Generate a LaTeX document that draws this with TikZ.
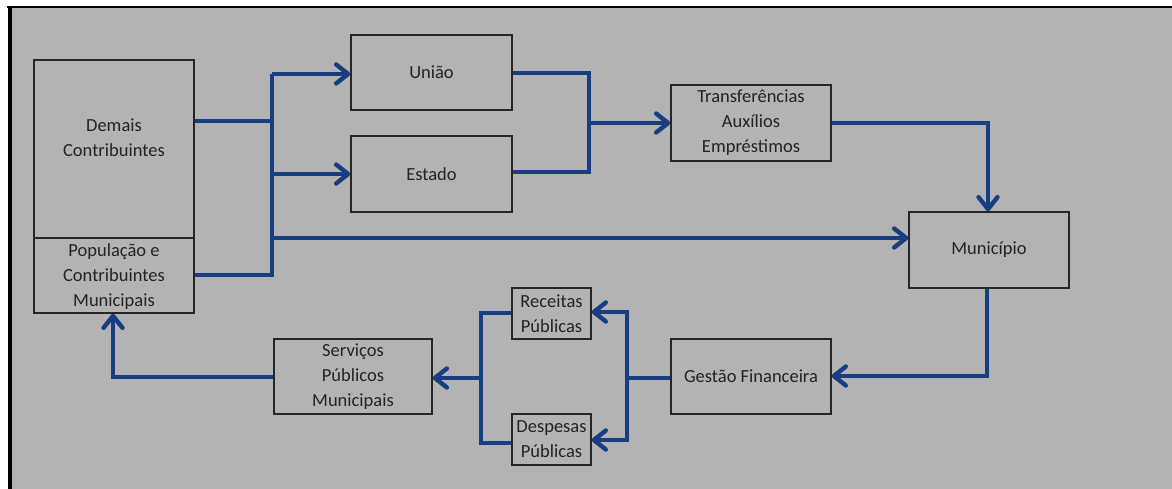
\documentclass[tikz,border=0pt]{standalone}
\usepackage{fontspec}
\setmainfont{Carlito}
\usetikzlibrary{arrows.meta}
\definecolor{bg}{RGB}{179,179,179}
\definecolor{flow}{RGB}{22,62,128}
\definecolor{txt}{RGB}{35,35,35}
\begin{document}
\begin{tikzpicture}[x=1bp,y=-1bp,
  box/.style={draw=black!85,line width=1.3bp,inner sep=0pt,text=txt,align=center,
    font=\fontsize{18.5bp}{25bp}\selectfont},
  lbl/.style={text=txt,align=center,font=\fontsize{18.5bp}{25bp}\selectfont},
  flowline/.style={draw=flow,line width=4.4bp,line join=miter},
  arr/.style={flowline,-{Straight Barb[length=12bp,width=19bp,line width=4.4bp,round]}}]
\useasboundingbox (0,0) rectangle (1172,489);
\fill[white] (0,0) rectangle (1172,489);
\fill[bg] (10,7) rectangle (1172,489);
\draw[black,line width=2.2bp] (7,7) -- (1172,7);
\draw[black,line width=3.5bp] (10,7) -- (10,489);
% nodes
\node[box,minimum width=160bp,minimum height=253bp] (dem) at (114,186.5) {};
\node[lbl] (demt) at (114,137.5) {Demais\\Contribuintes};
\draw[draw=black!85,line width=1.3bp] (dem.west |- 0,238) coordinate (dl) -- (dem.east |- 0,238) coordinate (dr);
\node[lbl] (pop) at (114,277) {População e\\Contribuintes\\Municipais};
\node[box,minimum width=161bp,minimum height=75bp] (uniao) at (431.5,72.5) {União};
\node[box,minimum width=161bp,minimum height=76bp] (estado) at (431.5,174) {Estado};
\node[box,minimum width=160bp,minimum height=76bp] (transf) at (751,123) {Transferências\\Auxílios\\Empréstimos};
\node[box,minimum width=160bp,minimum height=76bp] (mun) at (989,250) {Município};
\node[box,minimum width=160bp,minimum height=75bp] (gest) at (751,376.5) {Gestão Financeira};
\node[box,minimum width=79bp,minimum height=51bp] (rec) at (551.5,313.5) {Receitas\\Públicas};
\node[box,minimum width=79bp,minimum height=51bp] (desp) at (551.5,439.5) {Despesas\\Públicas};
\node[box,minimum width=158bp,minimum height=75bp] (serv) at (353,376.5) {Serviços\\Públicos\\Municipais};
% bus from contributors
\coordinate (b1) at (272,121);
\coordinate (b2) at (272,275);
\coordinate (btop) at (272,74);
\draw[flowline] (dem.east |- b1) -- (b1);
\draw[flowline] (btop) -- (b2) -- (dem.east |- b2);
\draw[arr] (btop) -- (uniao.west |- btop);
\draw[arr] (272,174) coordinate (be) -- (estado.west |- be);
\draw[arr] (272,238) coordinate (bm) -- (mun.west |- bm);
% union/estado to transfers
\coordinate (t1) at (589,73);
\coordinate (t2) at (589,172);
\draw[flowline] (uniao.east |- t1) -- (t1) -- (t2) -- (estado.east |- t2);
\draw[arr] (589,123) coordinate (tm) -- (transf.west |- tm);
% transfers to municipio
\coordinate (c1) at (988,123);
\draw[arr] (transf.east |- c1) -- (c1) -- (c1 |- mun.north);
% municipio to gestao
\coordinate (c2) at (987,376);
\draw[arr] (c2 |- mun.south) -- (c2) -- (c2 -| gest.east);
% gestao to receitas/despesas
\coordinate (g0) at (627,378);
\draw[flowline] (g0 -| gest.west) -- (g0);
\draw[arr] (g0) -- (627,312) coordinate (g1) -- (g1 -| rec.east);
\draw[arr] (g0) -- (627,440) coordinate (g2) -- (g2 -| desp.east);
% receitas/despesas to servicos
\coordinate (r1) at (481,313);
\coordinate (r2) at (481,443);
\draw[flowline] (rec.west |- r1) -- (r1) -- (r2) -- (desp.west |- r2);
\draw[arr] (481,378) coordinate (rm) -- (rm -| serv.east);
% servicos back to population
\coordinate (s1) at (113,377);
\draw[arr] (serv.west |- s1) -- (s1) -- (s1 |- dem.south);
\end{tikzpicture}
\end{document}
